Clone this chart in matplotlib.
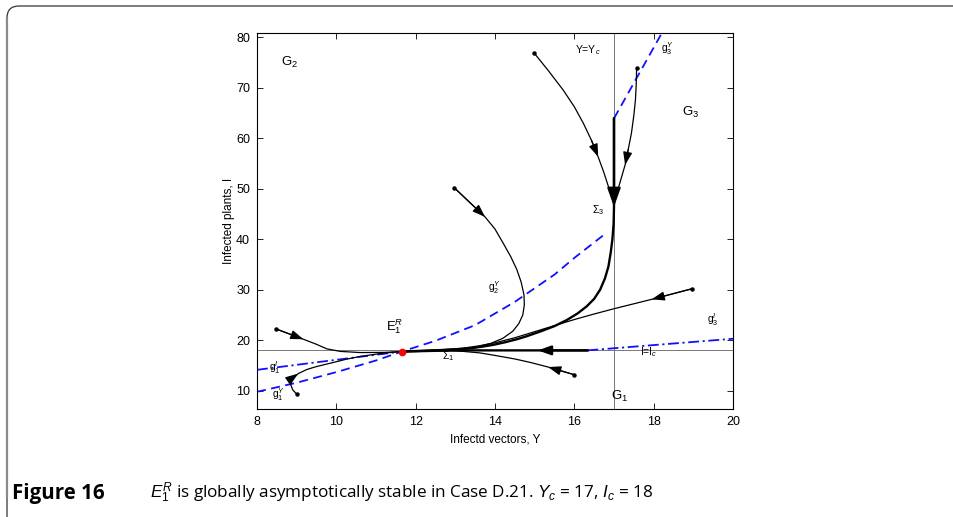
import matplotlib
matplotlib.use("Agg")
import matplotlib.pyplot as plt
from matplotlib.patches import FancyBboxPatch
from matplotlib.lines import Line2D

plt.rcParams['font.family'] = ['Liberation Sans', 'DejaVu Sans']
plt.rcParams['mathtext.fontset'] = 'custom'
plt.rcParams['mathtext.rm'] = 'Liberation Sans'
plt.rcParams['mathtext.it'] = 'Liberation Sans:italic'

# ---------------- data (Y = infected vectors, I = infected plants) ----------------
Yc = 17
Ic = 18
E1 = (11.65, 17.77)

# nullcline g^Y (dashed): g1^Y / g2^Y part and g3^Y part
gY12_Y = [8.0, 9.0, 10.0, 11.0, 11.65, 12.5, 13.5, 14.5, 15.5, 16.0, 16.8]
gY12_I = [9.8, 11.6, 13.7, 16.0, 17.77, 19.9, 23.0, 27.6, 33.0, 36.3, 41.2]
gY3_Y = [17.0, 18.2]
gY3_I = [63.9, 80.7]

# nullcline g^I (dash-dot): g1^I and g3^I parts
gI1_Y = [8.0, 11.65]
gI1_I = [14.15, 17.77]
gI3_Y = [16.33, 20.0]
gI3_I = [18.0, 20.3]

# trajectories (start point first)
tA_Y = [8.48, 9.17, 9.5, 9.76, 10.1, 10.6, 11.2, 11.65]
tA_I = [22.25, 20.2, 19.2, 18.3, 17.8, 17.57, 17.6, 17.77]

tB_Y = [9.0, 8.9, 8.85, 8.87, 8.95, 9.04, 9.25, 9.5, 9.92, 10.25, 10.6, 11.18, 11.65]
tB_I = [9.35, 10.2, 11.2, 12.2, 12.9, 13.4, 14.2, 14.8, 15.6, 16.25, 16.8, 17.45, 17.77]

tC_Y = [12.97, 13.75, 14.0, 14.2, 14.4, 14.55, 14.66, 14.73, 14.74, 14.7, 14.6, 14.45,
        14.2, 13.9, 13.5, 13.0, 12.4, 11.65]
tC_I = [50.2, 44.4, 42.0, 39.3, 36.5, 34.0, 31.5, 29.0, 27.0, 25.0, 23.3, 21.8,
        20.4, 19.4, 18.6, 18.2, 17.95, 17.77]

tD_Y = [14.98, 15.35, 15.72, 16.0, 16.23, 16.43, 16.6, 16.74, 16.86, 16.94, 17.0]
tD_I = [76.9, 73.3, 69.5, 66.2, 62.9, 59.6, 56.3, 53.3, 50.4, 48.5, 47.0]

tE_Y = [17.57, 17.56, 17.54, 17.5, 17.44, 17.36, 17.28, 17.18, 17.09, 17.0]
tE_I = [73.9, 70.5, 67.5, 64.5, 61.0, 57.8, 54.7, 52.0, 49.6, 47.3]

tF_Y = [18.97, 17.95, 16.98, 16.5, 16.0, 15.5, 15.0, 14.5, 14.0, 13.6, 13.2, 12.7, 12.2, 11.65]
tF_I = [30.2, 28.1, 26.2, 25.2, 24.1, 22.9, 21.7, 20.5, 19.5, 18.9, 18.45, 18.15, 17.95, 17.77]

tG_Y = [15.99, 15.34, 14.9, 14.5, 14.0, 13.62, 13.2, 12.8, 12.3, 11.65]
tG_I = [13.2, 14.7, 15.6, 16.3, 17.0, 17.5, 17.8, 17.95, 17.92, 17.77]

# sliding modes (thick)
s3_Y = [17.0, 17.0, 16.99, 16.96, 16.92, 16.86, 16.77, 16.65, 16.5, 16.31, 16.08, 15.81,
        15.5, 15.13, 14.8, 14.55, 14.25, 13.96, 13.65, 13.37, 13.0, 12.6, 12.1, 11.65]
s3_I = [63.9, 46.4, 43.0, 40.0, 37.5, 34.6, 32.2, 30.0, 28.2, 26.7, 25.3, 24.0,
        22.8, 21.7, 20.8, 20.2, 19.6, 19.1, 18.7, 18.4, 18.2, 18.05, 17.9, 17.77]

s1_Y = [16.33, 15.08, 13.0, 11.65]
s1_I = [18.0, 18.0, 18.0, 17.77]

# ---------------- figure ----------------
fig = plt.figure(figsize=(9.54, 5.17), dpi=100)
W, H = 954, 517

# page frame (rounded, top + left visible)
frame = FancyBboxPatch((7, -40), 1100, 40 + (H - 6), boxstyle="round,pad=0,rounding_size=12",
                       transform=None, fill=False, edgecolor='#333333', lw=0.9, zorder=0)
fig.patches.append(frame)
fig.add_artist(Line2D([7 / W, 7 / W], [20 / H, 1 - 18 / H], transform=fig.transFigure,
                      color='#8a8a8a', lw=1.6))

ax = fig.add_axes([257 / W, 1 - 409 / H, (733 - 257) / W, (409 - 33) / H])
ax.set_xlim(8, 20)
ax.set_ylim(6.4, 80.8)
ax.set_xticks([8, 10, 12, 14, 16, 18, 20])
ax.set_yticks([10, 20, 30, 40, 50, 60, 70, 80])
ax.tick_params(direction='in', length=4, width=0.6, top=True, right=True, labelsize=9, pad=5)
for s in ax.spines.values():
    s.set_linewidth(0.8)

# switching lines
ax.axhline(Ic, color='#777777', lw=0.7, zorder=1)
ax.axvline(Yc, color='#777777', lw=0.7, zorder=1)

blue = '#1010ff'
ax.plot(gY12_Y, gY12_I, color=blue, lw=1.3, ls=(0, (5, 3)), zorder=2)
ax.plot(gY3_Y, gY3_I, color=blue, lw=1.3, ls=(0, (5, 3)), zorder=2)
ax.plot(gI1_Y, gI1_I, color=blue, lw=1.3, ls=(0, (6, 2, 1.2, 2)), zorder=2)
ax.plot(gI3_Y, gI3_I, color=blue, lw=1.3, ls=(0, (6, 2, 1.2, 2)), zorder=2)


def traj(ys, is_, k, lw=0.9, big=False, start=True):
    ax.plot(ys, is_, color='k', lw=lw, zorder=3, solid_joinstyle='round')
    if start:
        ax.plot(ys[0], is_[0], 'o', color='k', ms=2.2, zorder=4)
    ms = 16 if big else 11
    ax.annotate('', xy=(ys[k], is_[k]), xytext=(ys[k - 1], is_[k - 1]),
                arrowprops=dict(arrowstyle='-|>,head_length=0.7,head_width=0.25',
                                color='k', lw=lw, shrinkA=0, shrinkB=0,
                                mutation_scale=ms), zorder=4)


traj(tA_Y, tA_I, 1)
traj(tB_Y, tB_I, 5)
traj(tC_Y, tC_I, 1)
traj(tD_Y, tD_I, 6)
traj(tE_Y, tE_I, 6)
traj(tF_Y, tF_I, 1)
traj(tG_Y, tG_I, 1)
traj(s3_Y, s3_I, 1, lw=1.7, big=True, start=False)
traj(s1_Y, s1_I, 1, lw=1.7, start=False)

ax.plot(*E1, 'o', color='red', ms=4.5, zorder=5)

# labels
ax.text(8.83, 75.0, 'G$_2$', fontsize=9.5, ha='center', va='center')
ax.text(18.92, 65.1, 'G$_3$', fontsize=9.5, ha='center', va='center')
ax.text(17.15, 8.8, 'G$_1$', fontsize=9.5, ha='center', va='center')
ax.text(16.35, 77.4, 'Y=Y$_c$', fontsize=7.5, ha='center', va='center')
ax.text(18.36, 77.8, 'g$_3^Y$', fontsize=7.5, ha='center', va='center')
ax.text(14.0, 30.4, 'g$_2^Y$', fontsize=7.5, ha='center', va='center')
ax.text(11.48, 22.7, 'E$_1^R$', fontsize=9.5, ha='center', va='center')
ax.text(12.82, 16.8, 'Σ$_1$', fontsize=7.5, ha='center', va='center')
ax.text(16.6, 45.8, 'Σ$_3$', fontsize=7.5, ha='center', va='center')
ax.text(19.48, 24.0, 'g$_3^I$', fontsize=7.5, ha='center', va='center')
ax.text(17.87, 17.6, 'I=I$_c$', fontsize=7.5, ha='center', va='center')
ax.text(8.45, 14.5, 'g$_1^I$', fontsize=7.5, ha='center', va='center')
ax.text(8.54, 9.3, 'g$_1^Y$', fontsize=7.5, ha='center', va='center')

ax.set_xlabel('Infectd vectors, Y', fontsize=8.5, labelpad=4)
ax.set_ylabel('Infected plants, I', fontsize=8.5, labelpad=1)

# caption, scaled to the reference text widths
cap_font = ['Open Sans', 'DejaVu Sans']
t1 = fig.text(12 / W, 1 - 493 / H, 'Figure 16', fontsize=12, fontweight='bold',
              family=cap_font, va='center', ha='left')
t2 = fig.text(150 / W, 1 - 493 / H,
              r'$E_1^R$ is globally asymptotically stable in Case D.21. $Y_c$ = 17, $I_c$ = 18',
              fontsize=12, family=cap_font, va='center', ha='left')
r = fig.canvas.get_renderer()
for _ in range(3):
    w = t2.get_window_extent(r).width
    t2.set_fontsize(t2.get_fontsize() * 500.0 / w)
t1.set_fontsize(t2.get_fontsize() * 1.2)

fig.savefig('out.png', dpi=100)
